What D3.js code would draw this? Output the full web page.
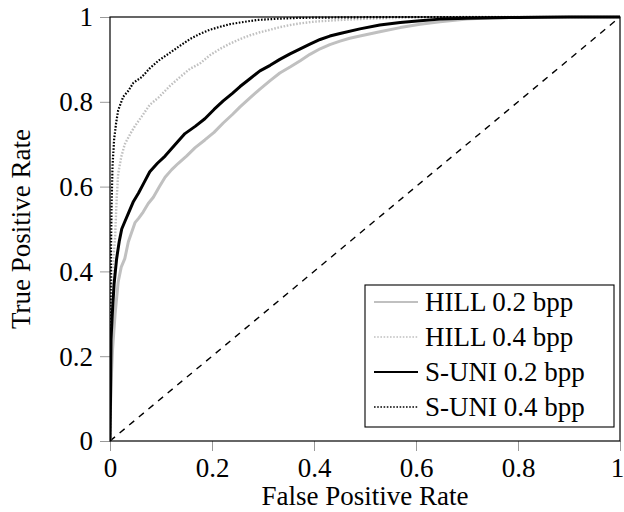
<!DOCTYPE html>
<html><head><meta charset="utf-8">
<script src="https://cdn.jsdelivr.net/npm/d3@7"></script>
<style>body{margin:0;background:#fff}svg{display:block}text{font-family:"Liberation Serif","Times New Roman",serif;fill:#000}</style>
</head><body><svg id="c" width="624" height="512"></svg>
<script>
const xTicks = [0, 0.2, 0.4, 0.6, 0.8, 1];
const yTicks = [0, 0.2, 0.4, 0.6, 0.8, 1];
const tickLabels = ["0", "0.2", "0.4", "0.6", "0.8", "1"];
const seriesNames = ["HILL 0.2 bpp", "HILL 0.4 bpp", "S-UNI 0.2 bpp", "S-UNI 0.4 bpp"];

const hill02 = [[0,0],[0.001,0.08],[0.003,0.16],[0.005,0.215],[0.01,0.3],[0.016,0.375],[0.022,0.41],[0.029,0.43],[0.036,0.47],[0.049,0.515],[0.056,0.525],[0.065,0.54],[0.075,0.56],[0.085,0.575],[0.097,0.6],[0.108,0.622],[0.121,0.64],[0.134,0.655],[0.15,0.672],[0.167,0.692],[0.186,0.71],[0.204,0.728],[0.222,0.75],[0.24,0.77],[0.255,0.788],[0.275,0.81],[0.294,0.83],[0.314,0.85],[0.333,0.868],[0.353,0.882],[0.373,0.897],[0.392,0.912],[0.412,0.925],[0.431,0.935],[0.451,0.943],[0.47,0.95],[0.49,0.955],[0.529,0.965],[0.569,0.975],[0.608,0.983],[0.647,0.989],[0.7,0.995],[0.75,0.998],[0.85,1],[1,1]];
const hill04 = [[0,0],[0.001,0.2],[0.003,0.35],[0.006,0.42],[0.01,0.48],[0.013,0.57],[0.016,0.63],[0.022,0.67],[0.029,0.70],[0.04,0.725],[0.049,0.743],[0.062,0.765],[0.078,0.793],[0.095,0.81],[0.118,0.838],[0.137,0.858],[0.157,0.878],[0.176,0.89],[0.196,0.91],[0.216,0.925],[0.235,0.937],[0.255,0.948],[0.275,0.957],[0.294,0.964],[0.314,0.97],[0.333,0.976],[0.353,0.981],[0.373,0.985],[0.40,0.989],[0.437,0.992],[0.503,0.996],[0.6,0.999],[0.7,1],[1,1]];
const suni02 = [[0,0],[0.001,0.1],[0.002,0.24],[0.005,0.31],[0.008,0.37],[0.013,0.43],[0.018,0.47],[0.023,0.5],[0.03,0.52],[0.036,0.537],[0.046,0.565],[0.056,0.585],[0.067,0.61],[0.078,0.635],[0.093,0.655],[0.108,0.672],[0.127,0.698],[0.147,0.725],[0.167,0.742],[0.186,0.76],[0.204,0.782],[0.222,0.802],[0.24,0.82],[0.255,0.836],[0.275,0.855],[0.294,0.873],[0.314,0.886],[0.333,0.9],[0.353,0.913],[0.373,0.925],[0.392,0.936],[0.412,0.947],[0.431,0.955],[0.451,0.961],[0.49,0.972],[0.529,0.981],[0.569,0.987],[0.608,0.991],[0.647,0.995],[0.7,0.997],[0.8,0.999],[0.9,1],[1,1]];
const suni04 = [[0,0],[0.001,0.3],[0.002,0.45],[0.003,0.55],[0.005,0.65],[0.008,0.71],[0.012,0.75],[0.016,0.78],[0.026,0.812],[0.036,0.826],[0.046,0.845],[0.062,0.858],[0.078,0.879],[0.095,0.897],[0.118,0.916],[0.137,0.932],[0.157,0.948],[0.176,0.96],[0.196,0.97],[0.216,0.977],[0.235,0.983],[0.255,0.987],[0.288,0.993],[0.33,0.996],[0.373,0.998],[0.45,0.999],[0.55,1],[1,1]];
const diagonal = [[0,0],[1,1]];

const L = 110, R = 620, T = 17, B = 441;
const svg = d3.select("#c");
const x = d3.scaleLinear().domain([0,1]).range([L,R]);
const y = d3.scaleLinear().domain([0,1]).range([B,T]);
const FS = 27;

const styles = [
  {data: hill02, color: "#c0c0c0", w: 3, dash: null, lw: 2},
  {data: hill04, color: "#c0c0c0", w: 2.4, dash: "1.6,1.6", lw: 1.6},
  {data: suni02, color: "#000", w: 3, dash: null, lw: 2},
  {data: suni04, color: "#000", w: 2.2, dash: "1.6,1.6", lw: 1.6}
];

// axes ticks
const xAxis = d3.axisBottom(x).tickValues(xTicks).tickSize(10).tickFormat((d,i)=>tickLabels[i]);
const yAxis = d3.axisLeft(y).tickValues(yTicks).tickSize(10).tickFormat((d,i)=>tickLabels[i]);
const gx = svg.append("g").attr("transform",`translate(0,${B})`).call(xAxis);
const gy = svg.append("g").attr("transform",`translate(${L},0)`).call(yAxis);
[gx,gy].forEach(g=>{
  g.select(".domain").remove();
  g.selectAll(".tick line").attr("stroke","#999").attr("stroke-width",1);
  g.selectAll(".tick text").attr("font-size",FS).attr("font-family","Liberation Serif").attr("fill","#000");
});
gx.selectAll(".tick text").attr("y",17).attr("dy","0.71em");
gx.selectAll(".tick text").filter(d=>d===1).attr("dx",-3);
gy.selectAll(".tick text").attr("x",-17).attr("dy","0.33em");

const line = d3.line().x(d=>x(d[0])).y(d=>y(d[1]));
const clipId = "clip";
svg.append("clipPath").attr("id",clipId).append("rect").attr("x",L).attr("y",T-2).attr("width",R-L+2).attr("height",B-T+4);
const plot = svg.append("g").attr("clip-path",`url(#${clipId})`);

plot.append("path").datum(diagonal).attr("d",line).attr("fill","none")
  .attr("stroke","#000").attr("stroke-width",1.4).attr("stroke-dasharray","6.5,6");

styles.forEach(s=>{
  plot.append("path").datum(s.data).attr("d",line).attr("fill","none")
    .attr("stroke",s.color).attr("stroke-width",s.w)
    .attr("stroke-dasharray",s.dash).attr("stroke-linejoin","round");
});

// frame
svg.append("rect").attr("x",L).attr("y",T).attr("width",R-L).attr("height",B-T)
  .attr("fill","none").attr("stroke","#000").attr("stroke-width",1.2);

// axis labels
svg.append("text").attr("x",(L+R)/2).attr("y",505).attr("text-anchor","middle")
  .attr("font-size",FS).text("False Positive Rate");
svg.append("text").attr("transform",`translate(30,${(T+B)/2}) rotate(-90)`).attr("text-anchor","middle")
  .attr("font-size",FS).text("True Positive Rate");

// legend
const lg = svg.append("g");
lg.append("rect").attr("x",365).attr("y",285).attr("width",249).attr("height",142)
  .attr("fill","#fff").attr("stroke","#000").attr("stroke-width",1.1);
const rowY = d3.scalePoint().domain(seriesNames).range([302,407]);
seriesNames.forEach((n,i)=>{
  const s = styles[i], yy = rowY(n);
  lg.append("line").attr("x1",374).attr("x2",418).attr("y1",yy).attr("y2",yy)
    .attr("stroke",s.color).attr("stroke-width",s.lw).attr("stroke-dasharray",s.dash);
  lg.append("text").attr("x",425).attr("y",yy).attr("dy","0.33em").attr("font-size",FS).text(n);
});
</script></body></html>
